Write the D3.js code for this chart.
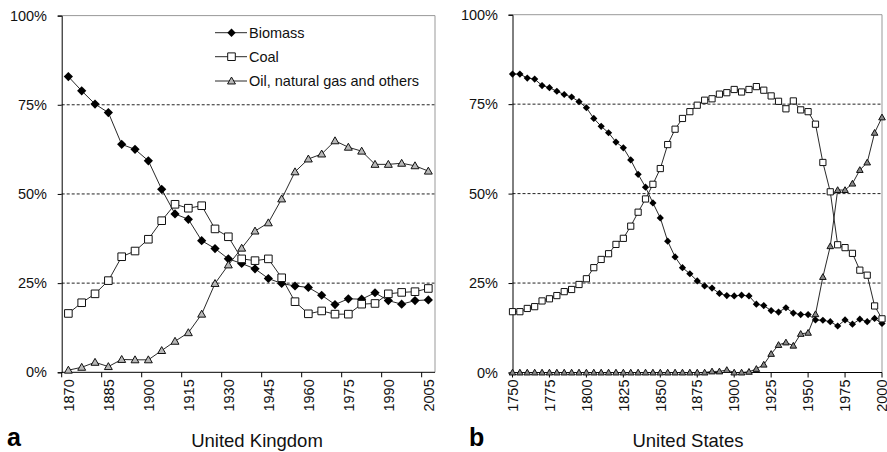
<!DOCTYPE html>
<html>
<head>
<meta charset="utf-8">
<script src="https://cdnjs.cloudflare.com/ajax/libs/d3/7.8.5/d3.min.js"></script>
<style>
    body { margin: 0; background: #fff; }
    svg { font-family: Arial, "Liberation Sans", sans-serif; }
</style>
</head>
<body>
<div id="holder"></div>
<script>
// United Kingdom, every 5 years
const ukYears = [1870, 1875, 1880, 1885, 1890, 1895, 1900, 1905, 1910, 1915, 1920, 1925, 1930, 1935,
    1940, 1945, 1950, 1955, 1960, 1965, 1970, 1975, 1980, 1985, 1990, 1995, 2000, 2005];
const ukBiomass = [82.9, 78.9, 75.2, 72.8, 63.9, 62.5, 59.3, 51.3, 44.4, 42.9, 36.9, 34.7, 31.8, 30.5,
    29.0, 26.3, 24.9, 24.2, 23.8, 21.6, 19.0, 20.6, 20.5, 22.3, 20.1, 19.1, 20.1, 20.3];
const ukCoal = [16.5, 19.5, 22.0, 25.7, 32.4, 34.0, 37.3, 42.5, 47.1, 46.0, 46.7, 40.2, 38.0, 31.8,
    31.3, 31.8, 26.5, 19.8, 16.4, 17.2, 16.3, 16.3, 19.1, 19.3, 22.0, 22.4, 22.6, 23.5];
const ukOil = [0.6, 1.4, 2.8, 1.6, 3.6, 3.5, 3.5, 6.1, 8.7, 11.1, 16.3, 24.9, 30.1, 34.8,
    39.6, 41.9, 48.6, 56.2, 59.8, 61.2, 64.9, 63.1, 62.0, 58.3, 58.3, 58.6, 57.9, 56.4];
const ukTickLabels = [1870, 1885, 1900, 1915, 1930, 1945, 1960, 1975, 1990, 2005];

// United States, every 5 years
const usYears = [1750, 1755, 1760, 1765, 1770, 1775, 1780, 1785, 1790, 1795,
    1800, 1805, 1810, 1815, 1820, 1825, 1830, 1835, 1840, 1845,
    1850, 1855, 1860, 1865, 1870, 1875, 1880, 1885, 1890, 1895,
    1900, 1905, 1910, 1915, 1920, 1925, 1930, 1935, 1940, 1945,
    1950, 1955, 1960, 1965, 1970, 1975, 1980, 1985, 1990, 1995, 2000];
const usBiomass = [83.4, 83.4, 82.3, 82.0, 80.2, 79.6, 78.6, 77.7, 77.0, 75.7,
    74.0, 71.0, 68.8, 67.0, 64.4, 62.8, 59.4, 55.4, 51.8, 47.4,
    43.2, 36.7, 32.3, 29.3, 27.6, 25.6, 24.2, 23.6, 22.1, 21.5,
    21.4, 21.6, 21.4, 19.1, 18.7, 17.3, 16.9, 18.1, 16.6, 16.2,
    16.2, 14.7, 14.6, 14.2, 13.0, 14.7, 13.5, 14.9, 14.2, 15.1, 13.7];
const usCoal = [17.0, 17.0, 17.9, 18.4, 20.0, 20.6, 21.5, 22.6, 23.2, 24.6,
    26.2, 29.3, 31.6, 33.2, 35.8, 37.5, 40.9, 44.8, 48.5, 52.6,
    57.0, 63.7, 68.0, 71.0, 72.9, 74.7, 76.1, 76.5, 77.8, 78.2,
    79.1, 78.4, 79.1, 79.9, 78.9, 77.3, 75.8, 73.7, 75.9, 73.4,
    72.9, 69.4, 58.7, 50.5, 35.7, 34.9, 33.3, 28.6, 27.2, 18.6, 15.0];
const usOil = [0, 0, 0, 0, 0, 0, 0, 0, 0, 0,
    0, 0, 0, 0, 0, 0, 0, 0, 0, 0,
    0, 0, 0, 0, 0, 0, 0, 0.3, 0.3, 0.7,
    0, 0, 0.2, 1.0, 2.2, 5.2, 7.7, 8.4, 7.5, 10.8,
    11.1, 16.3, 26.7, 35.3, 51.0, 51.0, 52.8, 56.6, 58.7, 67.0, 71.3];
const usTickLabels = [1750, 1775, 1800, 1825, 1850, 1875, 1900, 1925, 1950, 1975, 2000];

const yTicks = [0, 25, 50, 75, 100];
const seriesNames = ["Biomass", "Coal", "Oil, natural gas and others"];

const w = 887;
const h = 452;

let svg = d3.select("#holder")
    .append("svg")
    .attr("width", w)
    .attr("height", h);

// marker shapes, s = half size
function markerPath(type, s) {
    if (type == "diamond") {
        return "M0," + (-s) + "L" + s + ",0L0," + s + "L" + (-s) + ",0Z";
    }
    if (type == "square") {
        return "M" + (-s) + "," + (-s) + "H" + s + "V" + s + "H" + (-s) + "Z";
    }
    let t = s * 1.1;
    return "M0," + (-t) + "L" + t + "," + (t * 0.75) + "L" + (-t) + "," + (t * 0.75) + "Z";
}

function drawMarker(g, type, x, y, s, triFill) {
    let fill = type == "diamond" ? "#000" : (type == "square" ? "#fff" : triFill);
    g.append("path")
        .attr("d", markerPath(type, s))
        .attr("transform", "translate(" + x + "," + y + ")")
        .attr("fill", fill)
        .attr("stroke", type == "diamond" ? "none" : "#111")
        .attr("stroke-width", 1);
}

function drawPanel(p) {
    let g = svg.append("g");
    let yScale = d3.scaleLinear().domain([0, 100]).range([p.bottom, p.top]);

    // dotted grid
    [25, 50, 75].forEach(v => {
        g.append("line")
            .attr("x1", p.left).attr("x2", p.right)
            .attr("y1", yScale(v)).attr("y2", yScale(v))
            .attr("stroke", "#222")
            .attr("stroke-width", 1)
            .attr("stroke-dasharray", "3,2");
    });
    // gray frame top / right
    g.append("path")
        .attr("d", "M" + p.left + "," + yScale(100) + "H" + p.right + "V" + p.bottom)
        .attr("fill", "none")
        .attr("stroke", "#999")
        .attr("stroke-width", 1);

    // y axis
    const yAxis = d3.axisLeft(yScale)
        .tickValues(yTicks)
        .tickSize(4)
        .tickFormat(d => d + "%");
    let ya = g.append("g")
        .attr("transform", "translate(" + p.left + ",0)")
        .call(yAxis);
    ya.select(".domain").attr("stroke", "#000");
    ya.selectAll("text")
        .attr("x", -(p.left - p.labelRight))
        .attr("font-size", "14.5px")
        .attr("font-family", null)
        .attr("fill", "#111");

    // x axis line + ticks
    g.append("line")
        .attr("x1", p.left).attr("x2", p.right)
        .attr("y1", p.bottom).attr("y2", p.bottom)
        .attr("stroke", "#000");
    p.ticks.forEach(t => {
        g.append("line")
            .attr("x1", t.tx).attr("x2", t.tx)
            .attr("y1", p.bottom).attr("y2", p.bottom + 5)
            .attr("stroke", "#000");
        g.append("text")
            .attr("transform", "translate(" + t.lx + "," + (p.bottom + 7) + ") rotate(-90)")
            .attr("text-anchor", "end")
            .attr("dy", "0.36em")
            .attr("font-size", "14.5px")
            .attr("fill", "#111")
            .text(t.label);
    });

    // series
    const types = ["diamond", "square", "triangle"];
    p.series.forEach((vals, k) => {
        let pts = vals.map((v, i) => [p.xPos(i), yScale(v)]);
        g.append("path")
            .attr("d", d3.line().curve(d3.curveLinear)(pts))
            .attr("fill", "none")
            .attr("stroke", "#111")
            .attr("stroke-width", 0.9);
        pts.forEach(pt => drawMarker(g, types[k], pt[0], pt[1], p.ms[k], p.triFill));
    });

    // panel letter and title
    g.append("text")
        .attr("x", p.letterX)
        .attr("y", 446)
        .attr("font-size", "25px")
        .attr("font-weight", "bold")
        .text(p.letter);
    g.append("text")
        .attr("x", p.titleX)
        .attr("y", 447)
        .attr("text-anchor", "middle")
        .attr("font-size", "18.5px")
        .attr("fill", "#111")
        .text(p.title);
    return g;
}

// UK: category axis, points in the middle of each category
let ukX = d3.scaleBand().domain(ukYears).range([61.7, 435]);
let ukTicks = ukTickLabels.map(y => ({
    tx: ukX(y),
    lx: ukX(y) + ukX.bandwidth() / 2,
    label: y
}));
let ukPanel = drawPanel({
    left: 61.7, right: 435, top: 15.6, bottom: 372.3, labelRight: 47,
    xPos: i => ukX(ukYears[i]) + ukX.bandwidth() / 2,
    ticks: ukTicks,
    series: [ukBiomass, ukCoal, ukOil],
    ms: [4.6, 3.8, 3.6],
    triFill: "#b8b8b8",
    letter: "a", letterX: 7, title: "United Kingdom", titleX: 257
});

// US: points on the tick marks
let usX = d3.scaleLinear().domain([1750, 2000]).range([512.5, 882]);
let usTicks = usTickLabels.map(y => ({ tx: usX(y), lx: usX(y), label: y }));
drawPanel({
    left: 512.5, right: 882, top: 14.7, bottom: 372.5, labelRight: 498,
    xPos: i => usX(usYears[i]),
    ticks: usTicks,
    series: [usBiomass, usCoal, usOil],
    ms: [3.6, 3.1, 3.0],
    triFill: "#888",
    letter: "b", letterX: 469, title: "United States", titleX: 688
});

// Legend (inside UK panel)
const legendY = [32.7, 56.7, 81];
const legendTypes = ["diamond", "square", "triangle"];
seriesNames.forEach((name, k) => {
    ukPanel.append("line")
        .attr("x1", 215).attr("x2", 247)
        .attr("y1", legendY[k]).attr("y2", legendY[k])
        .attr("stroke", "#111")
        .attr("stroke-width", 0.9);
    drawMarker(ukPanel, legendTypes[k], 231.5, legendY[k], [4.2, 3.8, 3.6][k], "#b8b8b8");
    ukPanel.append("text")
        .attr("x", 249)
        .attr("y", legendY[k])
        .attr("dy", "0.36em")
        .attr("font-size", "14.5px")
        .attr("fill", "#111")
        .text(name);
});
</script>
</body>
</html>
